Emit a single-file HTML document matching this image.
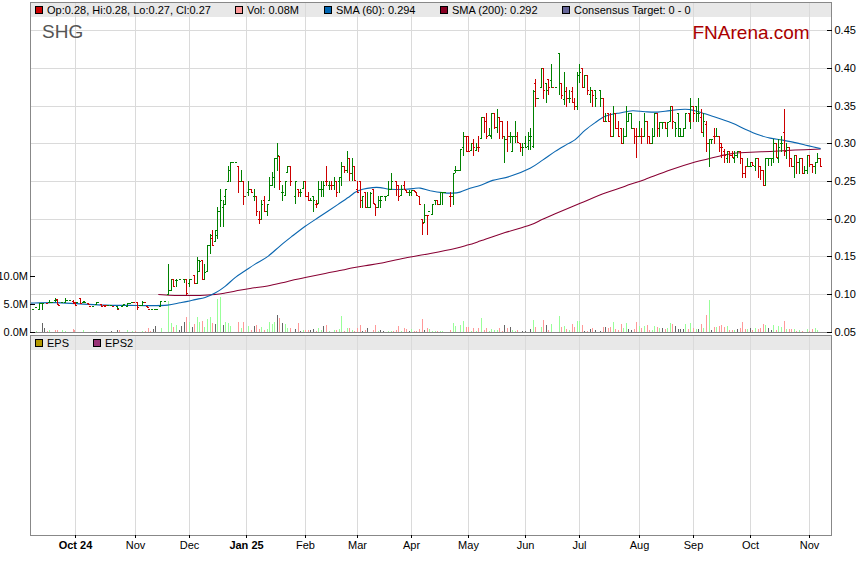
<!DOCTYPE html><html><head><meta charset="utf-8"><title>SHG</title>
<style>html,body{margin:0;padding:0;background:#fff;}body{width:859px;height:566px;overflow:hidden;font-family:"Liberation Sans",sans-serif;}svg{display:block;}text{font-family:"Liberation Sans",sans-serif;}</style>
</head><body>
<svg width="859" height="566" viewBox="0 0 859 566">
<rect x="0" y="0" width="859" height="566" fill="#ffffff"/>
<rect x="30" y="2" width="802" height="15" fill="#e8e8e8"/>
<rect x="30" y="335" width="802" height="15" fill="#e8e8e8"/>
<g shape-rendering="crispEdges" stroke="#dadada" stroke-width="1">
<line x1="75.5" y1="2" x2="75.5" y2="332"/>
<line x1="75.5" y1="335" x2="75.5" y2="535"/>
<line x1="135.5" y1="2" x2="135.5" y2="332"/>
<line x1="135.5" y1="335" x2="135.5" y2="535"/>
<line x1="189.5" y1="2" x2="189.5" y2="332"/>
<line x1="189.5" y1="335" x2="189.5" y2="535"/>
<line x1="246.5" y1="2" x2="246.5" y2="332"/>
<line x1="246.5" y1="335" x2="246.5" y2="535"/>
<line x1="305.5" y1="2" x2="305.5" y2="332"/>
<line x1="305.5" y1="335" x2="305.5" y2="535"/>
<line x1="357.5" y1="2" x2="357.5" y2="332"/>
<line x1="357.5" y1="335" x2="357.5" y2="535"/>
<line x1="411.5" y1="2" x2="411.5" y2="332"/>
<line x1="411.5" y1="335" x2="411.5" y2="535"/>
<line x1="468.5" y1="2" x2="468.5" y2="332"/>
<line x1="468.5" y1="335" x2="468.5" y2="535"/>
<line x1="525.5" y1="2" x2="525.5" y2="332"/>
<line x1="525.5" y1="335" x2="525.5" y2="535"/>
<line x1="579.5" y1="2" x2="579.5" y2="332"/>
<line x1="579.5" y1="335" x2="579.5" y2="535"/>
<line x1="639.5" y1="2" x2="639.5" y2="332"/>
<line x1="639.5" y1="335" x2="639.5" y2="535"/>
<line x1="693.5" y1="2" x2="693.5" y2="332"/>
<line x1="693.5" y1="335" x2="693.5" y2="535"/>
<line x1="750.5" y1="2" x2="750.5" y2="332"/>
<line x1="750.5" y1="335" x2="750.5" y2="535"/>
<line x1="809.5" y1="2" x2="809.5" y2="332"/>
<line x1="809.5" y1="335" x2="809.5" y2="535"/>
<line x1="30" y1="30.5" x2="831" y2="30.5"/>
<line x1="30" y1="68.5" x2="831" y2="68.5"/>
<line x1="30" y1="106.5" x2="831" y2="106.5"/>
<line x1="30" y1="143.5" x2="831" y2="143.5"/>
<line x1="30" y1="181.5" x2="831" y2="181.5"/>
<line x1="30" y1="219.5" x2="831" y2="219.5"/>
<line x1="30" y1="256.5" x2="831" y2="256.5"/>
<line x1="30" y1="294.5" x2="831" y2="294.5"/>
</g>
<g shape-rendering="crispEdges">
<rect x="36" y="331" width="1" height="1" fill="#99ff99"/>
<rect x="42" y="323" width="1" height="9" fill="#666666"/>
<rect x="44" y="328" width="1" height="4" fill="#666666"/>
<rect x="47" y="331" width="1" height="1" fill="#ff9999"/>
<rect x="49" y="330" width="1" height="2" fill="#99ff99"/>
<rect x="55" y="330" width="1" height="2" fill="#ff9999"/>
<rect x="57" y="330" width="1" height="2" fill="#ff9999"/>
<rect x="62" y="330" width="1" height="2" fill="#99ff99"/>
<rect x="65" y="331" width="1" height="1" fill="#99ff99"/>
<rect x="73" y="329" width="1" height="3" fill="#ff9999"/>
<rect x="74" y="330" width="1" height="2" fill="#ff9999"/>
<rect x="83" y="330" width="1" height="2" fill="#99ff99"/>
<rect x="96" y="331" width="1" height="1" fill="#99ff99"/>
<rect x="111" y="331" width="1" height="1" fill="#666666"/>
<rect x="117" y="330" width="1" height="2" fill="#666666"/>
<rect x="119" y="330" width="1" height="2" fill="#ff9999"/>
<rect x="127" y="330" width="1" height="2" fill="#99ff99"/>
<rect x="132" y="331" width="1" height="1" fill="#99ff99"/>
<rect x="135" y="331" width="1" height="1" fill="#ff9999"/>
<rect x="142" y="331" width="1" height="1" fill="#99ff99"/>
<rect x="145" y="331" width="1" height="1" fill="#ff9999"/>
<rect x="148" y="328" width="1" height="4" fill="#ff9999"/>
<rect x="150" y="331" width="1" height="1" fill="#ff9999"/>
<rect x="153" y="329" width="1" height="3" fill="#666666"/>
<rect x="155" y="326" width="1" height="6" fill="#666666"/>
<rect x="161" y="328" width="1" height="4" fill="#99ff99"/>
<rect x="168" y="301" width="1" height="31" fill="#99ff99"/>
<rect x="171" y="323" width="1" height="9" fill="#99ff99"/>
<rect x="173" y="327" width="1" height="5" fill="#ff9999"/>
<rect x="176" y="325" width="1" height="7" fill="#99ff99"/>
<rect x="179" y="330" width="1" height="2" fill="#666666"/>
<rect x="181" y="326" width="1" height="6" fill="#666666"/>
<rect x="184" y="322" width="1" height="10" fill="#666666"/>
<rect x="186" y="317" width="1" height="15" fill="#ff9999"/>
<rect x="186" y="317" width="1" height="15" fill="#ff9999"/>
<rect x="189" y="322" width="1" height="10" fill="#99ff99"/>
<rect x="192" y="327" width="1" height="5" fill="#666666"/>
<rect x="194" y="324" width="1" height="8" fill="#ff9999"/>
<rect x="197" y="317" width="1" height="15" fill="#99ff99"/>
<rect x="199" y="322" width="1" height="10" fill="#99ff99"/>
<rect x="202" y="321" width="1" height="11" fill="#ff9999"/>
<rect x="204" y="327" width="1" height="5" fill="#99ff99"/>
<rect x="207" y="319" width="1" height="13" fill="#99ff99"/>
<rect x="210" y="317" width="1" height="15" fill="#99ff99"/>
<rect x="212" y="323" width="1" height="9" fill="#ff9999"/>
<rect x="215" y="324" width="1" height="8" fill="#666666"/>
<rect x="217" y="299" width="1" height="33" fill="#99ff99"/>
<rect x="220" y="297" width="1" height="35" fill="#99ff99"/>
<rect x="223" y="325" width="1" height="7" fill="#666666"/>
<rect x="225" y="322" width="1" height="10" fill="#99ff99"/>
<rect x="228" y="323" width="1" height="9" fill="#99ff99"/>
<rect x="230" y="326" width="1" height="6" fill="#99ff99"/>
<rect x="238" y="322" width="1" height="10" fill="#ff9999"/>
<rect x="241" y="328" width="1" height="4" fill="#99ff99"/>
<rect x="243" y="322" width="1" height="10" fill="#ff9999"/>
<rect x="248" y="326" width="1" height="6" fill="#99ff99"/>
<rect x="251" y="330" width="1" height="2" fill="#ff9999"/>
<rect x="254" y="326" width="1" height="6" fill="#666666"/>
<rect x="256" y="325" width="1" height="7" fill="#ff9999"/>
<rect x="259" y="329" width="1" height="3" fill="#ff9999"/>
<rect x="261" y="327" width="1" height="5" fill="#99ff99"/>
<rect x="264" y="330" width="1" height="2" fill="#ff9999"/>
<rect x="267" y="329" width="1" height="3" fill="#99ff99"/>
<rect x="269" y="322" width="1" height="10" fill="#99ff99"/>
<rect x="272" y="324" width="1" height="8" fill="#99ff99"/>
<rect x="274" y="322" width="1" height="10" fill="#99ff99"/>
<rect x="277" y="315" width="1" height="17" fill="#666666"/>
<rect x="279" y="318" width="1" height="14" fill="#ff9999"/>
<rect x="282" y="323" width="1" height="9" fill="#666666"/>
<rect x="285" y="324" width="1" height="8" fill="#99ff99"/>
<rect x="287" y="328" width="1" height="4" fill="#99ff99"/>
<rect x="290" y="328" width="1" height="4" fill="#ff9999"/>
<rect x="295" y="329" width="1" height="3" fill="#666666"/>
<rect x="298" y="323" width="1" height="9" fill="#ff9999"/>
<rect x="300" y="331" width="1" height="1" fill="#666666"/>
<rect x="303" y="330" width="1" height="2" fill="#99ff99"/>
<rect x="305" y="330" width="1" height="2" fill="#ff9999"/>
<rect x="308" y="330" width="1" height="2" fill="#ff9999"/>
<rect x="310" y="330" width="1" height="2" fill="#666666"/>
<rect x="313" y="329" width="1" height="3" fill="#666666"/>
<rect x="316" y="331" width="1" height="1" fill="#ff9999"/>
<rect x="318" y="328" width="1" height="4" fill="#99ff99"/>
<rect x="321" y="330" width="1" height="2" fill="#99ff99"/>
<rect x="323" y="326" width="1" height="6" fill="#666666"/>
<rect x="326" y="325" width="1" height="7" fill="#ff9999"/>
<rect x="329" y="331" width="1" height="1" fill="#99ff99"/>
<rect x="334" y="330" width="1" height="2" fill="#99ff99"/>
<rect x="336" y="330" width="1" height="2" fill="#ff9999"/>
<rect x="339" y="329" width="1" height="3" fill="#99ff99"/>
<rect x="341" y="316" width="1" height="16" fill="#99ff99"/>
<rect x="344" y="331" width="1" height="1" fill="#ff9999"/>
<rect x="347" y="328" width="1" height="4" fill="#99ff99"/>
<rect x="349" y="328" width="1" height="4" fill="#ff9999"/>
<rect x="352" y="330" width="1" height="2" fill="#99ff99"/>
<rect x="354" y="331" width="1" height="1" fill="#ff9999"/>
<rect x="357" y="328" width="1" height="4" fill="#ff9999"/>
<rect x="360" y="325" width="1" height="7" fill="#ff9999"/>
<rect x="362" y="331" width="1" height="1" fill="#666666"/>
<rect x="365" y="330" width="1" height="2" fill="#ff9999"/>
<rect x="367" y="328" width="1" height="4" fill="#666666"/>
<rect x="373" y="330" width="1" height="2" fill="#ff9999"/>
<rect x="375" y="325" width="1" height="7" fill="#ff9999"/>
<rect x="378" y="331" width="1" height="1" fill="#99ff99"/>
<rect x="380" y="330" width="1" height="2" fill="#666666"/>
<rect x="383" y="331" width="1" height="1" fill="#666666"/>
<rect x="388" y="331" width="1" height="1" fill="#99ff99"/>
<rect x="391" y="331" width="1" height="1" fill="#99ff99"/>
<rect x="393" y="331" width="1" height="1" fill="#ff9999"/>
<rect x="396" y="330" width="1" height="2" fill="#ff9999"/>
<rect x="398" y="326" width="1" height="6" fill="#ff9999"/>
<rect x="401" y="331" width="1" height="1" fill="#99ff99"/>
<rect x="404" y="328" width="1" height="4" fill="#ff9999"/>
<rect x="406" y="329" width="1" height="3" fill="#ff9999"/>
<rect x="409" y="331" width="1" height="1" fill="#666666"/>
<rect x="411" y="329" width="1" height="3" fill="#99ff99"/>
<rect x="414" y="331" width="1" height="1" fill="#ff9999"/>
<rect x="416" y="331" width="1" height="1" fill="#ff9999"/>
<rect x="419" y="329" width="1" height="3" fill="#ff9999"/>
<rect x="422" y="319" width="1" height="13" fill="#ff9999"/>
<rect x="424" y="330" width="1" height="2" fill="#666666"/>
<rect x="427" y="328" width="1" height="4" fill="#ff9999"/>
<rect x="429" y="329" width="1" height="3" fill="#99ff99"/>
<rect x="432" y="331" width="1" height="1" fill="#99ff99"/>
<rect x="435" y="331" width="1" height="1" fill="#99ff99"/>
<rect x="437" y="331" width="1" height="1" fill="#ff9999"/>
<rect x="440" y="331" width="1" height="1" fill="#99ff99"/>
<rect x="442" y="331" width="1" height="1" fill="#99ff99"/>
<rect x="450" y="330" width="1" height="2" fill="#ff9999"/>
<rect x="453" y="323" width="1" height="9" fill="#99ff99"/>
<rect x="455" y="326" width="1" height="6" fill="#99ff99"/>
<rect x="460" y="325" width="1" height="7" fill="#99ff99"/>
<rect x="463" y="321" width="1" height="11" fill="#99ff99"/>
<rect x="466" y="327" width="1" height="5" fill="#ff9999"/>
<rect x="468" y="327" width="1" height="5" fill="#ff9999"/>
<rect x="471" y="331" width="1" height="1" fill="#99ff99"/>
<rect x="473" y="328" width="1" height="4" fill="#ff9999"/>
<rect x="476" y="331" width="1" height="1" fill="#99ff99"/>
<rect x="478" y="328" width="1" height="4" fill="#ff9999"/>
<rect x="481" y="318" width="1" height="14" fill="#99ff99"/>
<rect x="484" y="330" width="1" height="2" fill="#ff9999"/>
<rect x="486" y="328" width="1" height="4" fill="#ff9999"/>
<rect x="489" y="331" width="1" height="1" fill="#99ff99"/>
<rect x="491" y="329" width="1" height="3" fill="#99ff99"/>
<rect x="494" y="330" width="1" height="2" fill="#99ff99"/>
<rect x="497" y="330" width="1" height="2" fill="#99ff99"/>
<rect x="497" y="330" width="1" height="2" fill="#99ff99"/>
<rect x="499" y="328" width="1" height="4" fill="#ff9999"/>
<rect x="502" y="331" width="1" height="1" fill="#ff9999"/>
<rect x="504" y="325" width="1" height="7" fill="#666666"/>
<rect x="507" y="328" width="1" height="4" fill="#ff9999"/>
<rect x="510" y="327" width="1" height="5" fill="#666666"/>
<rect x="512" y="330" width="1" height="2" fill="#99ff99"/>
<rect x="515" y="331" width="1" height="1" fill="#99ff99"/>
<rect x="517" y="330" width="1" height="2" fill="#ff9999"/>
<rect x="522" y="331" width="1" height="1" fill="#666666"/>
<rect x="525" y="331" width="1" height="1" fill="#666666"/>
<rect x="530" y="329" width="1" height="3" fill="#666666"/>
<rect x="533" y="320" width="1" height="12" fill="#99ff99"/>
<rect x="535" y="327" width="1" height="5" fill="#ff9999"/>
<rect x="541" y="327" width="1" height="5" fill="#99ff99"/>
<rect x="543" y="320" width="1" height="12" fill="#ff9999"/>
<rect x="546" y="325" width="1" height="7" fill="#666666"/>
<rect x="548" y="330" width="1" height="2" fill="#ff9999"/>
<rect x="551" y="324" width="1" height="8" fill="#99ff99"/>
<rect x="559" y="316" width="1" height="16" fill="#99ff99"/>
<rect x="561" y="327" width="1" height="5" fill="#ff9999"/>
<rect x="564" y="326" width="1" height="6" fill="#99ff99"/>
<rect x="566" y="329" width="1" height="3" fill="#ff9999"/>
<rect x="569" y="330" width="1" height="2" fill="#99ff99"/>
<rect x="572" y="324" width="1" height="8" fill="#ff9999"/>
<rect x="574" y="327" width="1" height="5" fill="#ff9999"/>
<rect x="577" y="321" width="1" height="11" fill="#99ff99"/>
<rect x="579" y="321" width="1" height="11" fill="#99ff99"/>
<rect x="582" y="325" width="1" height="7" fill="#ff9999"/>
<rect x="584" y="331" width="1" height="1" fill="#666666"/>
<rect x="587" y="331" width="1" height="1" fill="#ff9999"/>
<rect x="590" y="329" width="1" height="3" fill="#666666"/>
<rect x="592" y="328" width="1" height="4" fill="#ff9999"/>
<rect x="595" y="330" width="1" height="2" fill="#666666"/>
<rect x="600" y="331" width="1" height="1" fill="#666666"/>
<rect x="603" y="327" width="1" height="5" fill="#ff9999"/>
<rect x="605" y="327" width="1" height="5" fill="#666666"/>
<rect x="608" y="328" width="1" height="4" fill="#ff9999"/>
<rect x="610" y="327" width="1" height="5" fill="#ff9999"/>
<rect x="613" y="322" width="1" height="10" fill="#99ff99"/>
<rect x="615" y="329" width="1" height="3" fill="#ff9999"/>
<rect x="618" y="330" width="1" height="2" fill="#ff9999"/>
<rect x="621" y="324" width="1" height="8" fill="#ff9999"/>
<rect x="623" y="328" width="1" height="4" fill="#99ff99"/>
<rect x="626" y="323" width="1" height="9" fill="#99ff99"/>
<rect x="628" y="329" width="1" height="3" fill="#666666"/>
<rect x="631" y="330" width="1" height="2" fill="#666666"/>
<rect x="634" y="329" width="1" height="3" fill="#ff9999"/>
<rect x="636" y="322" width="1" height="10" fill="#ff9999"/>
<rect x="639" y="326" width="1" height="6" fill="#99ff99"/>
<rect x="641" y="328" width="1" height="4" fill="#ff9999"/>
<rect x="644" y="326" width="1" height="6" fill="#99ff99"/>
<rect x="647" y="325" width="1" height="7" fill="#ff9999"/>
<rect x="649" y="330" width="1" height="2" fill="#ff9999"/>
<rect x="652" y="330" width="1" height="2" fill="#ff9999"/>
<rect x="652" y="330" width="1" height="2" fill="#99ff99"/>
<rect x="654" y="326" width="1" height="6" fill="#99ff99"/>
<rect x="657" y="327" width="1" height="5" fill="#ff9999"/>
<rect x="659" y="328" width="1" height="4" fill="#99ff99"/>
<rect x="662" y="328" width="1" height="4" fill="#666666"/>
<rect x="665" y="329" width="1" height="3" fill="#ff9999"/>
<rect x="667" y="328" width="1" height="4" fill="#99ff99"/>
<rect x="670" y="323" width="1" height="9" fill="#99ff99"/>
<rect x="672" y="324" width="1" height="8" fill="#ff9999"/>
<rect x="675" y="326" width="1" height="6" fill="#666666"/>
<rect x="678" y="329" width="1" height="3" fill="#666666"/>
<rect x="680" y="329" width="1" height="3" fill="#666666"/>
<rect x="683" y="329" width="1" height="3" fill="#666666"/>
<rect x="685" y="324" width="1" height="8" fill="#99ff99"/>
<rect x="688" y="329" width="1" height="3" fill="#ff9999"/>
<rect x="690" y="323" width="1" height="9" fill="#99ff99"/>
<rect x="693" y="328" width="1" height="4" fill="#ff9999"/>
<rect x="696" y="329" width="1" height="3" fill="#99ff99"/>
<rect x="698" y="329" width="1" height="3" fill="#666666"/>
<rect x="701" y="324" width="1" height="8" fill="#ff9999"/>
<rect x="703" y="328" width="1" height="4" fill="#99ff99"/>
<rect x="706" y="315" width="1" height="17" fill="#ff9999"/>
<rect x="709" y="300" width="1" height="32" fill="#99ff99"/>
<rect x="711" y="330" width="1" height="2" fill="#666666"/>
<rect x="714" y="327" width="1" height="5" fill="#ff9999"/>
<rect x="716" y="327" width="1" height="5" fill="#99ff99"/>
<rect x="719" y="326" width="1" height="6" fill="#ff9999"/>
<rect x="721" y="325" width="1" height="7" fill="#ff9999"/>
<rect x="724" y="327" width="1" height="5" fill="#ff9999"/>
<rect x="727" y="326" width="1" height="6" fill="#99ff99"/>
<rect x="729" y="330" width="1" height="2" fill="#ff9999"/>
<rect x="732" y="330" width="1" height="2" fill="#ff9999"/>
<rect x="734" y="330" width="1" height="2" fill="#99ff99"/>
<rect x="737" y="329" width="1" height="3" fill="#666666"/>
<rect x="740" y="328" width="1" height="4" fill="#ff9999"/>
<rect x="742" y="322" width="1" height="10" fill="#ff9999"/>
<rect x="745" y="329" width="1" height="3" fill="#ff9999"/>
<rect x="747" y="329" width="1" height="3" fill="#99ff99"/>
<rect x="750" y="328" width="1" height="4" fill="#666666"/>
<rect x="752" y="330" width="1" height="2" fill="#ff9999"/>
<rect x="755" y="328" width="1" height="4" fill="#99ff99"/>
<rect x="758" y="329" width="1" height="3" fill="#ff9999"/>
<rect x="760" y="328" width="1" height="4" fill="#ff9999"/>
<rect x="760" y="328" width="1" height="4" fill="#ff9999"/>
<rect x="763" y="324" width="1" height="8" fill="#ff9999"/>
<rect x="765" y="325" width="1" height="7" fill="#99ff99"/>
<rect x="768" y="328" width="1" height="4" fill="#666666"/>
<rect x="771" y="330" width="1" height="2" fill="#666666"/>
<rect x="773" y="325" width="1" height="7" fill="#99ff99"/>
<rect x="776" y="330" width="1" height="2" fill="#ff9999"/>
<rect x="778" y="326" width="1" height="6" fill="#99ff99"/>
<rect x="781" y="327" width="1" height="5" fill="#99ff99"/>
<rect x="784" y="321" width="1" height="11" fill="#ff9999"/>
<rect x="786" y="329" width="1" height="3" fill="#99ff99"/>
<rect x="789" y="329" width="1" height="3" fill="#ff9999"/>
<rect x="791" y="329" width="1" height="3" fill="#ff9999"/>
<rect x="794" y="329" width="1" height="3" fill="#99ff99"/>
<rect x="796" y="331" width="1" height="1" fill="#ff9999"/>
<rect x="799" y="330" width="1" height="2" fill="#99ff99"/>
<rect x="802" y="331" width="1" height="1" fill="#ff9999"/>
<rect x="807" y="329" width="1" height="3" fill="#99ff99"/>
<rect x="809" y="331" width="1" height="1" fill="#ff9999"/>
<rect x="812" y="329" width="1" height="3" fill="#ff9999"/>
<rect x="815" y="328" width="1" height="4" fill="#99ff99"/>
<rect x="817" y="330" width="1" height="2" fill="#99ff99"/>
</g>
<path d="M158.3,294.6 C161.1,294.7 168.1,295.3 175.0,295.4 C181.9,295.5 193.3,295.5 200.0,295.4 C206.7,295.3 210.9,295.0 215.1,294.6 C219.3,294.2 221.3,293.8 225.1,293.1 C228.8,292.4 233.4,291.4 237.6,290.6 C241.8,289.8 245.1,289.2 250.1,288.4 C255.1,287.6 261.3,287.1 267.6,285.9 C273.9,284.7 281.4,282.8 287.7,281.4 C294.0,280.0 298.9,278.9 305.2,277.6 C311.4,276.3 319.0,274.7 325.2,273.4 C331.4,272.1 338.4,270.9 342.6,270.0 C346.8,269.1 346.6,269.0 350.3,268.3 C354.0,267.6 360.0,266.7 365.0,265.8 C370.0,264.9 373.5,264.5 380.2,263.2 C386.9,261.9 396.8,259.5 405.2,257.9 C413.6,256.3 422.0,255.0 430.3,253.4 C438.6,251.8 448.8,249.8 455.0,248.4 C461.2,247.0 463.3,246.3 467.5,245.1 C471.7,243.9 473.7,243.2 480.0,241.1 C486.3,239.0 496.8,235.3 505.1,232.6 C513.5,229.9 523.9,227.3 530.1,225.1 C536.4,222.9 538.4,221.2 542.6,219.3 C546.8,217.4 548.9,216.5 555.2,213.8 C561.5,211.1 571.9,206.8 580.2,203.3 C588.5,199.9 598.6,195.6 605.2,193.1 C611.8,190.6 615.8,189.6 620.0,188.1 C624.2,186.6 626.1,185.8 630.3,184.3 C634.5,182.9 638.4,181.8 645.0,179.4 C651.6,177.0 661.8,173.0 670.1,170.1 C678.5,167.2 686.8,164.5 695.1,162.1 C703.4,159.7 713.9,157.3 720.1,155.9 C726.4,154.5 728.4,154.0 732.6,153.4 C736.8,152.8 738.9,152.9 745.2,152.6 C751.5,152.3 761.9,151.8 770.2,151.4 C778.5,151.0 786.8,150.5 795.2,150.1 C803.6,149.7 816.4,149.3 820.6,149.1" fill="none" stroke="#880033" stroke-width="1.05" stroke-linejoin="round"/>
<path d="M30.0,303.1 C34.2,303.0 46.7,302.5 55.0,302.6 C63.3,302.7 71.7,303.5 80.0,303.9 C88.3,304.3 96.7,304.9 105.0,305.1 C113.3,305.4 122.5,305.3 130.0,305.4 C137.5,305.5 143.8,305.7 150.0,305.6 C156.2,305.6 162.5,305.6 167.5,305.1 C172.5,304.6 176.7,303.4 180.0,302.8 C183.3,302.2 185.0,301.9 187.5,301.4 C190.0,300.9 192.1,300.3 195.0,299.6 C197.9,298.9 201.8,298.5 205.1,297.4 C208.4,296.3 211.8,294.9 215.1,293.1 C218.4,291.3 221.8,289.0 225.1,286.4 C228.4,283.8 231.8,280.2 235.1,277.6 C238.4,275.0 241.8,273.1 245.1,270.8 C248.4,268.6 251.3,266.5 255.1,264.1 C258.9,261.7 263.4,259.7 267.6,256.6 C271.8,253.6 276.0,249.3 280.2,245.8 C284.4,242.3 288.5,239.1 292.7,235.8 C296.9,232.6 300.6,229.6 305.2,226.3 C309.8,223.1 314.8,219.9 320.2,216.3 C325.6,212.7 332.7,208.0 337.7,204.6 C342.7,201.2 347.4,198.1 350.3,196.0 C353.2,193.9 353.1,193.4 355.2,192.3 C357.3,191.2 359.8,190.1 362.7,189.3 C365.6,188.5 369.8,187.9 372.7,187.6 C375.6,187.3 377.3,187.3 380.2,187.6 C383.1,187.9 386.0,189.0 390.2,189.3 C394.4,189.6 401.4,189.4 405.2,189.3 C409.0,189.2 410.5,188.8 413.0,188.6 C415.5,188.4 417.3,187.8 420.2,188.1 C423.1,188.4 426.6,189.9 430.3,190.7 C434.0,191.4 438.8,192.2 442.5,192.6 C446.2,193.0 449.6,193.2 452.5,193.1 C455.4,193.0 457.1,192.9 460.0,192.1 C462.9,191.3 466.7,189.4 470.0,188.3 C473.3,187.2 476.2,186.8 480.0,185.5 C483.8,184.2 487.6,181.9 492.6,180.4 C497.6,178.9 503.9,178.3 510.1,176.3 C516.4,174.3 524.7,170.9 530.1,168.2 C535.5,165.5 538.4,162.9 542.6,160.1 C546.8,157.3 551.0,154.1 555.2,151.4 C559.4,148.7 564.4,145.9 567.7,143.9 C571.0,141.9 572.3,141.9 575.2,139.6 C578.1,137.3 581.9,132.9 585.2,130.1 C588.5,127.3 591.9,124.9 595.2,122.6 C598.5,120.3 601.9,117.8 605.2,116.3 C608.5,114.8 612.7,114.1 615.2,113.6 C617.7,113.0 617.1,113.5 620.0,113.0 C622.9,112.5 628.3,111.0 632.5,110.8 C636.7,110.6 640.8,111.6 645.0,111.8 C649.2,112.0 653.3,112.3 657.5,112.1 C661.7,111.9 665.5,111.1 670.1,110.6 C674.7,110.1 680.9,109.3 685.1,109.3 C689.3,109.3 691.8,110.0 695.1,110.8 C698.4,111.5 700.9,112.5 705.1,113.8 C709.3,115.1 715.5,117.2 720.1,118.8 C724.7,120.4 728.4,121.5 732.6,123.3 C736.8,125.0 741.0,127.4 745.2,129.3 C749.4,131.2 753.5,133.1 757.7,134.6 C761.9,136.1 766.0,137.2 770.2,138.1 C774.4,139.0 778.5,139.3 782.7,140.1 C786.9,140.8 791.0,141.7 795.2,142.6 C799.4,143.5 803.5,144.6 807.7,145.6 C811.9,146.6 818.5,148.1 820.6,148.6" fill="none" stroke="#0a66b0" stroke-width="1.1" stroke-linejoin="round"/>
<g shape-rendering="crispEdges"><path d="M32,309h2v1h-2zM35,307h2v1h-2zM39,303h1v7h-1zM38,309h1v1h-1zM40,303h1v1h-1zM42,303h1v7h-1zM41,303h1v1h-1zM43,303h1v1h-1zM49,300h1v3h-1zM48,302h1v1h-1zM50,302h1v1h-1zM51,302h2v1h-2zM55,298h1v4h-1zM54,300h1v1h-1zM56,300h1v1h-1zM61,302h2v1h-2zM65,298h1v5h-1zM64,302h1v1h-1zM66,300h1v1h-1zM66,300h2v1h-2zM69,300h2v1h-2zM76,302h2v1h-2zM83,301h1v2h-1zM82,302h1v1h-1zM84,301h1v1h-1zM84,302h2v1h-2zM92,306h2v1h-2zM96,302h1v3h-1zM95,304h1v1h-1zM97,302h1v1h-1zM97,302h2v1h-2zM107,305h2v1h-2zM110,305h2v1h-2zM117,306h1v3h-1zM116,306h1v1h-1zM118,308h1v1h-1zM122,305h1v2h-1zM121,306h1v1h-1zM123,305h1v1h-1zM123,304h2v1h-2zM127,303h1v4h-1zM126,306h1v1h-1zM128,303h1v1h-1zM129,303h2v1h-2zM131,302h2v1h-2zM139,305h2v1h-2zM142,301h1v5h-1zM141,305h1v1h-1zM143,302h1v1h-1zM151,309h2v1h-2zM154,309h2v1h-2zM156,309h2v1h-2zM160,301h1v6h-1zM159,306h1v1h-1zM161,301h1v1h-1zM164,301h2v1h-2zM168,264h1v31h-1zM167,294h1v1h-1zM169,290h1v1h-1zM171,279h1v12h-1zM170,290h1v1h-1zM172,279h1v1h-1zM176,279h1v8h-1zM175,280h1v1h-1zM177,280h1v1h-1zM179,279h2v1h-2zM184,279h1v4h-1zM183,279h1v1h-1zM185,279h1v1h-1zM189,279h1v8h-1zM188,283h1v1h-1zM190,279h1v1h-1zM190,279h2v1h-2zM197,257h1v27h-1zM196,283h1v1h-1zM198,260h1v1h-1zM199,260h1v12h-1zM198,271h1v1h-1zM200,261h1v1h-1zM204,264h1v16h-1zM203,279h1v1h-1zM205,272h1v1h-1zM207,245h1v27h-1zM206,271h1v1h-1zM208,245h1v1h-1zM210,234h1v20h-1zM209,245h1v1h-1zM211,235h1v1h-1zM215,230h1v12h-1zM214,241h1v1h-1zM216,230h1v1h-1zM217,207h1v32h-1zM216,235h1v1h-1zM218,211h1v1h-1zM220,189h1v38h-1zM219,211h1v1h-1zM221,200h1v1h-1zM223,200h1v27h-1zM222,207h1v1h-1zM224,204h1v1h-1zM225,189h1v16h-1zM224,196h1v1h-1zM226,189h1v1h-1zM228,166h1v16h-1zM227,181h1v1h-1zM229,170h1v1h-1zM230,162h1v20h-1zM229,170h1v1h-1zM231,162h1v1h-1zM232,162h2v1h-2zM235,162h2v1h-2zM241,170h1v12h-1zM240,181h1v1h-1zM242,181h1v1h-1zM244,196h2v1h-2zM248,181h1v15h-1zM247,192h1v1h-1zM249,189h1v1h-1zM254,189h1v12h-1zM253,196h1v1h-1zM255,196h1v1h-1zM261,200h1v20h-1zM260,219h1v1h-1zM262,204h1v1h-1zM267,204h1v12h-1zM266,211h1v1h-1zM268,204h1v1h-1zM269,177h1v24h-1zM268,200h1v1h-1zM270,185h1v1h-1zM272,172h1v14h-1zM271,185h1v1h-1zM273,177h1v1h-1zM274,158h1v30h-1zM273,177h1v1h-1zM275,158h1v1h-1zM277,143h1v28h-1zM276,158h1v1h-1zM278,155h1v1h-1zM282,185h1v16h-1zM281,192h1v1h-1zM283,192h1v1h-1zM285,181h1v15h-1zM284,195h1v1h-1zM286,181h1v1h-1zM287,166h1v7h-1zM286,172h1v1h-1zM288,166h1v1h-1zM295,181h1v23h-1zM294,196h1v1h-1zM296,181h1v1h-1zM300,189h1v8h-1zM299,192h1v1h-1zM301,192h1v1h-1zM303,181h1v8h-1zM302,188h1v1h-1zM304,181h1v1h-1zM310,198h1v3h-1zM309,200h1v1h-1zM311,200h1v1h-1zM313,196h1v16h-1zM312,196h1v1h-1zM314,200h1v1h-1zM318,181h1v23h-1zM317,203h1v1h-1zM319,189h1v1h-1zM321,181h1v16h-1zM320,189h1v1h-1zM322,189h1v1h-1zM323,181h1v16h-1zM322,189h1v1h-1zM324,185h1v1h-1zM329,181h1v9h-1zM328,185h1v1h-1zM330,185h1v1h-1zM334,177h1v13h-1zM333,185h1v1h-1zM335,181h1v1h-1zM339,177h1v16h-1zM338,181h1v1h-1zM340,177h1v1h-1zM341,162h1v24h-1zM340,177h1v1h-1zM342,166h1v1h-1zM347,151h1v22h-1zM346,170h1v1h-1zM348,158h1v1h-1zM352,158h1v23h-1zM351,173h1v1h-1zM353,166h1v1h-1zM362,196h1v12h-1zM361,200h1v1h-1zM363,196h1v1h-1zM367,192h1v16h-1zM366,207h1v1h-1zM368,207h1v1h-1zM370,192h1v16h-1zM369,207h1v1h-1zM371,193h1v1h-1zM378,196h1v12h-1zM377,207h1v1h-1zM379,200h1v1h-1zM380,196h1v12h-1zM379,200h1v1h-1zM381,200h1v1h-1zM381,196h2v1h-2zM385,196h1v5h-1zM384,196h1v1h-1zM386,196h1v1h-1zM388,181h1v15h-1zM387,195h1v1h-1zM389,189h1v1h-1zM391,173h1v17h-1zM390,189h1v1h-1zM392,181h1v1h-1zM401,185h1v11h-1zM400,195h1v1h-1zM402,189h1v1h-1zM409,190h1v6h-1zM408,192h1v1h-1zM410,192h1v1h-1zM411,190h1v6h-1zM410,192h1v1h-1zM412,190h1v1h-1zM424,204h1v19h-1zM423,222h1v1h-1zM425,215h1v1h-1zM428,211h2v1h-2zM432,204h1v11h-1zM431,214h1v1h-1zM433,204h1v1h-1zM435,200h1v5h-1zM434,200h1v1h-1zM436,200h1v1h-1zM440,192h1v13h-1zM439,204h1v1h-1zM441,192h1v1h-1zM442,192h1v13h-1zM441,192h1v1h-1zM443,192h1v1h-1zM444,192h2v1h-2zM453,173h1v32h-1zM452,196h1v1h-1zM454,173h1v1h-1zM455,166h1v7h-1zM454,170h1v1h-1zM456,170h1v1h-1zM457,170h2v1h-2zM460,149h1v22h-1zM459,170h1v1h-1zM461,149h1v1h-1zM463,132h1v24h-1zM462,147h1v1h-1zM464,136h1v1h-1zM471,143h1v8h-1zM470,150h1v1h-1zM472,143h1v1h-1zM476,143h1v8h-1zM475,150h1v1h-1zM477,147h1v1h-1zM481,117h1v22h-1zM480,138h1v1h-1zM482,117h1v1h-1zM489,128h1v8h-1zM488,135h1v1h-1zM490,135h1v1h-1zM491,113h1v26h-1zM490,136h1v1h-1zM492,113h1v1h-1zM497,109h1v24h-1zM496,127h1v1h-1zM498,117h1v1h-1zM504,136h1v27h-1zM503,136h1v1h-1zM505,139h1v1h-1zM510,132h1v11h-1zM509,136h1v1h-1zM511,136h1v1h-1zM512,136h1v16h-1zM511,151h1v1h-1zM513,136h1v1h-1zM515,121h1v22h-1zM514,136h1v1h-1zM516,136h1v1h-1zM522,143h1v13h-1zM521,147h1v1h-1zM523,147h1v1h-1zM525,136h1v12h-1zM524,143h1v1h-1zM526,147h1v1h-1zM528,132h1v18h-1zM527,146h1v1h-1zM529,140h1v1h-1zM530,128h1v22h-1zM529,136h1v1h-1zM531,136h1v1h-1zM533,90h1v58h-1zM532,146h1v1h-1zM534,91h1v1h-1zM537,98h2v1h-2zM541,68h1v20h-1zM540,87h1v1h-1zM542,68h1v1h-1zM546,83h1v20h-1zM545,83h1v1h-1zM547,90h1v1h-1zM551,64h1v24h-1zM550,80h1v1h-1zM552,87h1v1h-1zM555,87h2v1h-2zM559,53h1v42h-1zM558,53h1v1h-1zM560,83h1v1h-1zM564,72h1v33h-1zM563,99h1v1h-1zM565,91h1v1h-1zM569,90h1v13h-1zM568,98h1v1h-1zM570,98h1v1h-1zM577,72h1v38h-1zM576,106h1v1h-1zM578,75h1v1h-1zM579,64h1v19h-1zM578,75h1v1h-1zM580,72h1v1h-1zM584,75h1v13h-1zM583,87h1v1h-1zM585,75h1v1h-1zM590,87h1v16h-1zM589,94h1v1h-1zM591,90h1v1h-1zM595,90h1v17h-1zM594,90h1v1h-1zM596,98h1v1h-1zM600,90h1v17h-1zM599,90h1v1h-1zM601,98h1v1h-1zM605,113h1v9h-1zM604,121h1v1h-1zM606,121h1v1h-1zM613,106h1v31h-1zM612,136h1v1h-1zM614,113h1v1h-1zM623,128h1v16h-1zM622,143h1v1h-1zM624,136h1v1h-1zM626,106h1v31h-1zM625,136h1v1h-1zM627,121h1v1h-1zM628,113h1v9h-1zM627,121h1v1h-1zM629,113h1v1h-1zM631,113h1v16h-1zM630,113h1v1h-1zM632,128h1v1h-1zM639,121h1v16h-1zM638,136h1v1h-1zM640,136h1v1h-1zM644,113h1v24h-1zM643,136h1v1h-1zM645,121h1v1h-1zM652,128h1v16h-1zM651,143h1v1h-1zM653,136h1v1h-1zM654,113h1v24h-1zM653,136h1v1h-1zM655,113h1v1h-1zM659,122h1v15h-1zM658,128h1v1h-1zM660,122h1v1h-1zM662,122h1v7h-1zM661,122h1v1h-1zM663,122h1v1h-1zM667,122h1v15h-1zM666,128h1v1h-1zM668,122h1v1h-1zM670,106h1v16h-1zM669,121h1v1h-1zM671,106h1v1h-1zM675,122h1v15h-1zM674,122h1v1h-1zM676,128h1v1h-1zM678,113h1v24h-1zM677,113h1v1h-1zM679,128h1v1h-1zM680,128h1v9h-1zM679,136h1v1h-1zM681,136h1v1h-1zM683,128h1v9h-1zM682,136h1v1h-1zM684,128h1v1h-1zM685,113h1v16h-1zM684,128h1v1h-1zM686,113h1v1h-1zM690,98h1v31h-1zM689,121h1v1h-1zM691,106h1v1h-1zM696,106h1v16h-1zM695,106h1v1h-1zM697,113h1v1h-1zM698,98h1v24h-1zM697,113h1v1h-1zM699,113h1v1h-1zM703,113h1v24h-1zM702,132h1v1h-1zM704,121h1v1h-1zM709,139h1v28h-1zM708,143h1v1h-1zM710,139h1v1h-1zM711,139h1v5h-1zM710,139h1v1h-1zM712,139h1v1h-1zM716,128h1v9h-1zM715,136h1v1h-1zM717,136h1v1h-1zM727,151h1v12h-1zM726,158h1v1h-1zM728,151h1v1h-1zM734,151h1v12h-1zM733,158h1v1h-1zM735,155h1v1h-1zM737,151h1v7h-1zM736,155h1v1h-1zM738,151h1v1h-1zM747,158h1v9h-1zM746,166h1v1h-1zM748,166h1v1h-1zM750,162h1v5h-1zM749,166h1v1h-1zM751,166h1v1h-1zM755,158h1v13h-1zM754,166h1v1h-1zM756,158h1v1h-1zM765,158h1v28h-1zM764,185h1v1h-1zM766,158h1v1h-1zM768,158h1v8h-1zM767,158h1v1h-1zM769,158h1v1h-1zM771,158h1v8h-1zM770,158h1v1h-1zM772,158h1v1h-1zM773,139h1v24h-1zM772,158h1v1h-1zM774,143h1v1h-1zM778,139h1v24h-1zM777,158h1v1h-1zM779,147h1v1h-1zM781,136h1v16h-1zM780,143h1v1h-1zM782,143h1v1h-1zM786,143h1v16h-1zM785,151h1v1h-1zM787,147h1v1h-1zM794,155h1v23h-1zM793,166h1v1h-1zM795,155h1v1h-1zM799,158h1v16h-1zM798,162h1v1h-1zM800,158h1v1h-1zM804,166h1v8h-1zM803,173h1v1h-1zM805,170h1v1h-1zM807,155h1v19h-1zM806,170h1v1h-1zM808,155h1v1h-1zM815,162h1v12h-1zM814,166h1v1h-1zM816,162h1v1h-1zM817,153h1v10h-1zM816,162h1v1h-1zM818,158h1v1h-1z" fill="#008000"/><path d="M46,303h2v1h-2zM57,299h1v6h-1zM56,299h1v1h-1zM58,304h1v1h-1zM58,305h2v1h-2zM73,300h1v4h-1zM72,301h1v1h-1zM74,303h1v1h-1zM75,302h1v4h-1zM74,302h1v1h-1zM76,305h1v1h-1zM80,298h1v6h-1zM79,298h1v1h-1zM81,303h1v1h-1zM88,303h1v2h-1zM87,303h1v1h-1zM89,304h1v1h-1zM89,306h2v1h-2zM101,304h1v3h-1zM100,304h1v1h-1zM102,306h1v1h-1zM104,305h1v2h-1zM103,305h1v1h-1zM105,306h1v1h-1zM104,306h2v1h-2zM105,305h2v1h-2zM112,306h2v1h-2zM117,309h2v1h-2zM133,302h2v1h-2zM137,302h1v8h-1zM136,302h1v1h-1zM138,307h1v1h-1zM144,302h2v1h-2zM147,306h1v2h-1zM146,306h1v1h-1zM148,307h1v1h-1zM148,309h2v1h-2zM173,279h1v8h-1zM172,279h1v1h-1zM174,286h1v1h-1zM186,279h1v16h-1zM185,279h1v1h-1zM187,293h1v1h-1zM194,275h1v9h-1zM193,275h1v1h-1zM195,283h1v1h-1zM202,260h1v20h-1zM201,260h1v1h-1zM203,279h1v1h-1zM212,230h1v16h-1zM211,238h1v1h-1zM213,245h1v1h-1zM238,166h1v27h-1zM237,166h1v1h-1zM239,181h1v1h-1zM243,181h1v24h-1zM242,181h1v1h-1zM244,196h1v1h-1zM251,189h1v4h-1zM250,189h1v1h-1zM252,192h1v1h-1zM256,196h1v20h-1zM255,196h1v1h-1zM257,211h1v1h-1zM259,211h1v13h-1zM258,219h1v1h-1zM260,219h1v1h-1zM264,196h1v16h-1zM263,200h1v1h-1zM265,211h1v1h-1zM279,156h1v34h-1zM278,156h1v1h-1zM280,181h1v1h-1zM290,166h1v20h-1zM289,166h1v1h-1zM291,181h1v1h-1zM298,189h1v8h-1zM297,189h1v1h-1zM299,192h1v1h-1zM305,181h1v16h-1zM304,181h1v1h-1zM306,196h1v1h-1zM308,192h1v9h-1zM307,196h1v1h-1zM309,200h1v1h-1zM316,200h1v8h-1zM315,204h1v1h-1zM317,204h1v1h-1zM326,166h1v20h-1zM325,181h1v1h-1zM327,181h1v1h-1zM331,181h1v9h-1zM330,185h1v1h-1zM332,185h1v1h-1zM336,181h1v16h-1zM335,181h1v1h-1zM337,192h1v1h-1zM344,166h1v7h-1zM343,166h1v1h-1zM345,170h1v1h-1zM349,158h1v23h-1zM348,158h1v1h-1zM350,173h1v1h-1zM354,166h1v15h-1zM353,166h1v1h-1zM355,180h1v1h-1zM357,181h1v12h-1zM356,189h1v1h-1zM358,192h1v1h-1zM360,181h1v27h-1zM359,181h1v1h-1zM361,200h1v1h-1zM365,192h1v16h-1zM364,192h1v1h-1zM366,207h1v1h-1zM373,189h1v15h-1zM372,189h1v1h-1zM374,203h1v1h-1zM375,204h1v12h-1zM374,204h1v1h-1zM376,207h1v1h-1zM396,181h1v15h-1zM395,181h1v1h-1zM397,185h1v1h-1zM398,185h1v16h-1zM397,185h1v1h-1zM399,196h1v1h-1zM404,181h1v9h-1zM403,185h1v1h-1zM405,189h1v1h-1zM406,190h1v3h-1zM405,190h1v1h-1zM407,192h1v1h-1zM414,190h1v2h-1zM413,190h1v1h-1zM415,191h1v1h-1zM416,192h1v4h-1zM415,192h1v1h-1zM417,195h1v1h-1zM419,196h1v9h-1zM418,196h1v1h-1zM420,204h1v1h-1zM422,219h1v16h-1zM421,219h1v1h-1zM423,223h1v1h-1zM427,215h1v20h-1zM426,215h1v1h-1zM428,215h1v1h-1zM437,200h1v5h-1zM436,200h1v1h-1zM438,204h1v1h-1zM450,192h1v15h-1zM449,196h1v1h-1zM451,196h1v1h-1zM466,136h1v16h-1zM465,136h1v1h-1zM467,151h1v1h-1zM468,136h1v16h-1zM467,136h1v1h-1zM469,151h1v1h-1zM473,139h1v17h-1zM472,143h1v1h-1zM474,147h1v1h-1zM478,136h1v16h-1zM477,147h1v1h-1zM479,147h1v1h-1zM484,117h1v16h-1zM483,117h1v1h-1zM485,121h1v1h-1zM486,113h1v26h-1zM485,121h1v1h-1zM487,136h1v1h-1zM494,113h1v16h-1zM493,113h1v1h-1zM495,127h1v1h-1zM499,117h1v22h-1zM498,117h1v1h-1zM500,121h1v1h-1zM502,121h1v18h-1zM501,121h1v1h-1zM503,136h1v1h-1zM507,121h1v31h-1zM506,139h1v1h-1zM508,136h1v1h-1zM517,132h1v11h-1zM516,136h1v1h-1zM518,142h1v1h-1zM520,143h1v9h-1zM519,143h1v1h-1zM521,147h1v1h-1zM535,79h1v28h-1zM534,83h1v1h-1zM536,98h1v1h-1zM543,68h1v31h-1zM542,68h1v1h-1zM544,90h1v1h-1zM548,79h1v16h-1zM547,79h1v1h-1zM549,87h1v1h-1zM552,87h2v1h-2zM561,83h1v16h-1zM560,83h1v1h-1zM562,95h1v1h-1zM566,87h1v20h-1zM565,91h1v1h-1zM567,98h1v1h-1zM572,87h1v16h-1zM571,91h1v1h-1zM573,102h1v1h-1zM574,98h1v12h-1zM573,102h1v1h-1zM575,106h1v1h-1zM582,68h1v20h-1zM581,68h1v1h-1zM583,87h1v1h-1zM587,75h1v20h-1zM586,75h1v1h-1zM588,90h1v1h-1zM592,90h1v17h-1zM591,90h1v1h-1zM593,95h1v1h-1zM603,98h1v24h-1zM602,98h1v1h-1zM604,121h1v1h-1zM608,113h1v9h-1zM607,113h1v1h-1zM609,121h1v1h-1zM610,113h1v24h-1zM609,121h1v1h-1zM611,136h1v1h-1zM615,113h1v16h-1zM614,113h1v1h-1zM616,128h1v1h-1zM618,121h1v16h-1zM617,128h1v1h-1zM619,136h1v1h-1zM621,128h1v16h-1zM620,128h1v1h-1zM622,143h1v1h-1zM634,128h1v16h-1zM633,128h1v1h-1zM635,136h1v1h-1zM636,128h1v30h-1zM635,136h1v1h-1zM637,136h1v1h-1zM641,128h1v16h-1zM640,136h1v1h-1zM642,136h1v1h-1zM647,121h1v23h-1zM646,121h1v1h-1zM648,136h1v1h-1zM649,136h1v8h-1zM648,136h1v1h-1zM650,143h1v1h-1zM657,113h1v24h-1zM656,113h1v1h-1zM658,128h1v1h-1zM665,122h1v7h-1zM664,122h1v1h-1zM666,128h1v1h-1zM672,106h1v23h-1zM671,106h1v1h-1zM673,121h1v1h-1zM689,113h1v9h-1zM688,113h1v1h-1zM690,121h1v1h-1zM693,106h1v16h-1zM692,106h1v1h-1zM694,113h1v1h-1zM701,109h1v24h-1zM700,117h1v1h-1zM702,132h1v1h-1zM706,121h1v31h-1zM705,124h1v1h-1zM707,143h1v1h-1zM714,128h1v16h-1zM713,136h1v1h-1zM715,136h1v1h-1zM719,136h1v16h-1zM718,136h1v1h-1zM720,143h1v1h-1zM721,143h1v15h-1zM720,147h1v1h-1zM722,147h1v1h-1zM724,149h1v14h-1zM723,151h1v1h-1zM725,155h1v1h-1zM729,151h1v12h-1zM728,151h1v1h-1zM730,155h1v1h-1zM732,151h1v7h-1zM731,155h1v1h-1zM733,157h1v1h-1zM740,151h1v13h-1zM739,151h1v1h-1zM741,158h1v1h-1zM742,158h1v20h-1zM741,158h1v1h-1zM743,173h1v1h-1zM745,166h1v12h-1zM744,173h1v1h-1zM746,166h1v1h-1zM752,162h1v4h-1zM751,162h1v1h-1zM753,165h1v1h-1zM758,158h1v20h-1zM757,158h1v1h-1zM759,166h1v1h-1zM760,166h1v14h-1zM759,166h1v1h-1zM761,170h1v1h-1zM763,170h1v16h-1zM762,170h1v1h-1zM764,185h1v1h-1zM776,143h1v15h-1zM775,143h1v1h-1zM777,157h1v1h-1zM784,109h1v47h-1zM783,132h1v1h-1zM785,151h1v1h-1zM789,147h1v20h-1zM788,147h1v1h-1zM790,158h1v1h-1zM791,158h1v9h-1zM790,158h1v1h-1zM792,166h1v1h-1zM796,155h1v19h-1zM795,155h1v1h-1zM797,162h1v1h-1zM802,158h1v16h-1zM801,158h1v1h-1zM803,173h1v1h-1zM809,155h1v12h-1zM808,155h1v1h-1zM810,164h1v1h-1zM812,164h1v9h-1zM811,164h1v1h-1zM813,166h1v1h-1zM820,158h1v9h-1zM819,158h1v1h-1zM821,166h1v1h-1z" fill="#cc0000"/></g>
<g shape-rendering="crispEdges" fill="none" stroke="#888888" stroke-width="1">
<rect x="30.5" y="2.5" width="801" height="330"/>
<rect x="30.5" y="335.5" width="801" height="200"/>
</g>
<g shape-rendering="crispEdges" stroke="#000000" stroke-width="1">
<line x1="827" y1="30.5" x2="832" y2="30.5"/>
<line x1="827" y1="68.5" x2="832" y2="68.5"/>
<line x1="827" y1="106.5" x2="832" y2="106.5"/>
<line x1="827" y1="143.5" x2="832" y2="143.5"/>
<line x1="827" y1="181.5" x2="832" y2="181.5"/>
<line x1="827" y1="219.5" x2="832" y2="219.5"/>
<line x1="827" y1="256.5" x2="832" y2="256.5"/>
<line x1="827" y1="294.5" x2="832" y2="294.5"/>
<line x1="827" y1="332.5" x2="832" y2="332.5"/>
<line x1="30" y1="332.5" x2="35" y2="332.5"/>
<line x1="30" y1="304.5" x2="35" y2="304.5"/>
<line x1="30" y1="276.5" x2="35" y2="276.5"/>
<line x1="75.5" y1="535" x2="75.5" y2="538"/>
<line x1="135.5" y1="535" x2="135.5" y2="538"/>
<line x1="189.5" y1="535" x2="189.5" y2="538"/>
<line x1="246.5" y1="535" x2="246.5" y2="538"/>
<line x1="305.5" y1="535" x2="305.5" y2="538"/>
<line x1="357.5" y1="535" x2="357.5" y2="538"/>
<line x1="411.5" y1="535" x2="411.5" y2="538"/>
<line x1="468.5" y1="535" x2="468.5" y2="538"/>
<line x1="525.5" y1="535" x2="525.5" y2="538"/>
<line x1="579.5" y1="535" x2="579.5" y2="538"/>
<line x1="639.5" y1="535" x2="639.5" y2="538"/>
<line x1="693.5" y1="535" x2="693.5" y2="538"/>
<line x1="750.5" y1="535" x2="750.5" y2="538"/>
<line x1="809.5" y1="535" x2="809.5" y2="538"/>
</g>
<g font-size="11px" fill="#000000">
<text x="834.5" y="34">0.45</text>
<text x="834.5" y="72">0.40</text>
<text x="834.5" y="110">0.35</text>
<text x="834.5" y="147">0.30</text>
<text x="834.5" y="185">0.25</text>
<text x="834.5" y="223">0.20</text>
<text x="834.5" y="260">0.15</text>
<text x="834.5" y="298">0.10</text>
<text x="834.5" y="336">0.05</text>
<text x="28" y="336" text-anchor="end">0.0M</text>
<text x="28" y="308" text-anchor="end">5.0M</text>
<text x="28" y="280" text-anchor="end">10.0M</text>
<text x="75.5" y="549" text-anchor="middle" font-weight="bold">Oct 24</text>
<text x="135.5" y="549" text-anchor="middle">Nov</text>
<text x="189.5" y="549" text-anchor="middle">Dec</text>
<text x="246.5" y="549" text-anchor="middle" font-weight="bold">Jan 25</text>
<text x="305.5" y="549" text-anchor="middle">Feb</text>
<text x="357.5" y="549" text-anchor="middle">Mar</text>
<text x="411.5" y="549" text-anchor="middle">Apr</text>
<text x="468.5" y="549" text-anchor="middle">May</text>
<text x="525.5" y="549" text-anchor="middle">Jun</text>
<text x="579.5" y="549" text-anchor="middle">Jul</text>
<text x="639.5" y="549" text-anchor="middle">Aug</text>
<text x="693.5" y="549" text-anchor="middle">Sep</text>
<text x="750.5" y="549" text-anchor="middle">Oct</text>
<text x="809.5" y="549" text-anchor="middle">Nov</text>
</g>
<rect x="35.5" y="6.5" width="7" height="7" fill="#cc0000" stroke="#000" stroke-width="1" shape-rendering="crispEdges"/>
<text x="47" y="13.5" font-size="11px" fill="#000">Op:0.28, Hi:0.28, Lo:0.27, Cl:0.27</text>
<rect x="235.5" y="6.5" width="7" height="7" fill="#ff9999" stroke="#000" stroke-width="1" shape-rendering="crispEdges"/>
<text x="247" y="13.5" font-size="11px" fill="#000">Vol: 0.08M</text>
<rect x="324.5" y="6.5" width="7" height="7" fill="#0066b3" stroke="#000" stroke-width="1" shape-rendering="crispEdges"/>
<text x="336" y="13.5" font-size="11px" fill="#000">SMA (60): 0.294</text>
<rect x="440.5" y="6.5" width="7" height="7" fill="#880022" stroke="#000" stroke-width="1" shape-rendering="crispEdges"/>
<text x="452" y="13.5" font-size="11px" fill="#000">SMA (200): 0.292</text>
<rect x="562.5" y="6.5" width="7" height="7" fill="#666699" stroke="#000" stroke-width="1" shape-rendering="crispEdges"/>
<text x="574" y="13.5" font-size="11px" fill="#000">Consensus Target: 0 - 0</text>
<rect x="35.5" y="339.5" width="7" height="7" fill="#b39900" stroke="#000" stroke-width="1" shape-rendering="crispEdges"/>
<text x="47" y="346.5" font-size="11px" fill="#000">EPS</text>
<rect x="93.5" y="339.5" width="7" height="7" fill="#993377" stroke="#000" stroke-width="1" shape-rendering="crispEdges"/>
<text x="105" y="346.5" font-size="11px" fill="#000">EPS2</text>
<text x="42" y="38.4" font-size="19px" fill="#555555">SHG</text>
<text x="692.5" y="39" font-size="19px" fill="#aa0000">FNArena.com</text>
</svg></body></html>
